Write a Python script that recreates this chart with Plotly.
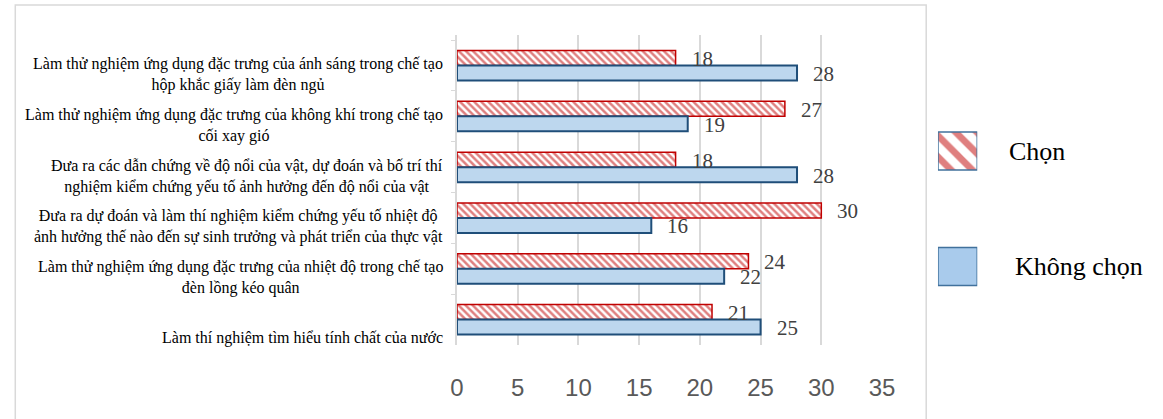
import plotly.graph_objects as go

categories = [
    "Làm thử nghiệm ứng dụng đặc trưng của ánh sáng trong chế tạo hộp khắc giấy làm đèn ngủ",
    "Làm thử nghiệm ứng dụng đặc trưng của không khí trong chế tạo cối xay gió",
    "Đưa ra các dẫn chứng về độ nổi của vật, dự đoán và bố trí thí nghiệm kiểm chứng yếu tố ảnh hưởng đến độ nổi của vật",
    "Đưa ra dự đoán và làm thí nghiệm kiểm chứng yếu tố nhiệt độ ảnh hưởng thế nào đến sự sinh trưởng và phát triển của thực vật",
    "Làm thử nghiệm ứng dụng đặc trưng của nhiệt độ trong chế tạo đèn lồng kéo quân",
    "Làm thí nghiệm tìm hiểu tính chất của nước",
]
tick_labels = [
    "Làm thử nghiệm ứng dụng đặc trưng của ánh sáng trong chế tạo<br>hộp khắc giấy làm đèn ngủ",
    "Làm thử nghiệm ứng dụng đặc trưng của không khí trong chế tạo<br>cối xay gió",
    "Đưa ra các dẫn chứng về độ nổi của vật, dự đoán và bố trí thí<br>nghiệm kiểm chứng yếu tố ảnh hưởng đến độ nổi của vật",
    "Đưa ra dự đoán và làm thí nghiệm kiểm chứng yếu tố nhiệt độ<br>ảnh hưởng thế nào đến sự sinh trưởng và phát triển của thực vật",
    "Làm thử nghiệm ứng dụng đặc trưng của nhiệt độ trong chế tạo<br>đèn lồng kéo quân",
    "Làm thí nghiệm tìm hiểu tính chất của nước",
]
series_names = ["Chọn", "Không chọn"]
chon = [18, 27, 18, 30, 24, 21]
khong_chon = [28, 19, 28, 16, 22, 25]
x_ticks = [0, 5, 10, 15, 20, 25, 30, 35]

W, H = 1163, 419
L, T, B, R = 457, 35, 74, 0
paper_w = W - L - R
paper_h = H - T - B
plot_w = 433


def px_x(p):
    return (p - L) / paper_w


def px_y(p):
    return (H - B - p) / paper_h


RED = "#C00000"
BLUE_FILL = "#BDD7EE"
BLUE_LINE = "#1F4E79"
GRID = "#D9D9D9"
SERIF = "Liberation Serif, Times New Roman, serif"

chon_pattern = dict(shape="\\", fgcolor=RED, bgcolor="white", size=5, solidity=0.5)

fig = go.Figure()
fig.add_trace(go.Bar(
    name=series_names[0], y=categories, x=chon, orientation="h",
    marker=dict(color="white", line=dict(color=RED, width=1.5), pattern=chon_pattern),
    showlegend=False, hoverinfo="x+y",
))
fig.add_trace(go.Bar(
    name=series_names[1], y=categories, x=khong_chon, orientation="h",
    marker=dict(color=BLUE_FILL, line=dict(color=BLUE_LINE, width=2)),
    showlegend=False, hoverinfo="x+y",
))

# Legend swatches drawn as bars in a small hidden subplot
sw_w = 38 / 115.5
fig.add_trace(go.Bar(
    y=[series_names[0]], x=[1], orientation="h", xaxis="x2", yaxis="y2",
    width=sw_w, offset=-sw_w / 2, showlegend=False, hoverinfo="skip",
    marker=dict(color="white", line=dict(color="#41719C", width=1.5),
                pattern=dict(shape="\\", fgcolor=RED, bgcolor="white", size=15, solidity=0.45)),
))
fig.add_trace(go.Bar(
    y=[series_names[1]], x=[1], orientation="h", xaxis="x2", yaxis="y2",
    width=sw_w, offset=-sw_w / 2, showlegend=False, hoverinfo="skip",
    marker=dict(color="#A9CBEC", line=dict(color="#41719C", width=1.5)),
))

annotations = []
for cat, lab in zip(categories, tick_labels):
    ys = -9 if "<br>" in lab else -18
    annotations.append(dict(
        xref="paper", x=0, xanchor="right", xshift=-12,
        yref="y", y=cat, yshift=ys, text=lab, align="center", showarrow=False,
        font=dict(family=SERIF, size=16, color="black"),
    ))
for cat, v1, v2 in zip(categories, chon, khong_chon):
    annotations.append(dict(
        xref="x", yref="y", x=v1, y=cat, xanchor="left", xshift=14, yshift=6.5,
        text=str(v1), showarrow=False, font=dict(family=SERIF, size=21, color="#404040"),
    ))
    annotations.append(dict(
        xref="x", yref="y", x=v2, y=cat, xanchor="left", xshift=14, yshift=-8.5,
        text=str(v2), showarrow=False, font=dict(family=SERIF, size=21, color="#404040"),
    ))
for i, name in enumerate(series_names):
    annotations.append(dict(
        xref="paper", x=px_x(1017), xanchor="left", xshift=6 * i, yref="y2", y=name,
        text=name, showarrow=False, font=dict(family=SERIF, size=26, color="black"),
    ))

fig.update_layout(
    width=W, height=H, autosize=False,
    margin=dict(l=L, r=R, t=T, b=B, pad=0),
    paper_bgcolor="white", plot_bgcolor="white",
    barmode="group", bargap=0.41, bargroupgap=0,
    showlegend=False,
    xaxis=dict(
        domain=[0, plot_w / paper_w], range=[0, 35], tickvals=x_ticks,
        showgrid=True, gridcolor=GRID, gridwidth=1.5, zeroline=False, showline=False,
        ticks="", tickfont=dict(family="Liberation Sans", size=24, color="#595959"),
        ticklabelstandoff=26, fixedrange=True,
    ),
    yaxis=dict(
        categoryorder="array", categoryarray=categories, autorange="reversed",
        showticklabels=False, showline=True, linecolor=GRID, linewidth=1.5,
        ticks="outside", tickson="boundaries", ticklen=4, tickcolor=GRID,
        showgrid=False, zeroline=False, fixedrange=True,
    ),
    xaxis2=dict(
        domain=[px_x(947), px_x(987)], range=[0, 1], anchor="y2", visible=False,
        fixedrange=True,
    ),
    yaxis2=dict(
        domain=[px_y(324.25), px_y(93.25)], anchor="x2", type="category",
        categoryorder="array", categoryarray=series_names, range=[1.5, -0.5],
        visible=False, fixedrange=True,
    ),
    annotations=annotations,
    shapes=[dict(
        type="rect", xref="paper", yref="paper",
        x0=px_x(7), x1=px_x(935), y0=-0.3, y1=px_y(5),
        line=dict(color=GRID, width=1.5), fillcolor="rgba(0,0,0,0)", layer="below",
    )],
)

fig.write_html("out.html", config={"responsive": False, "displayModeBar": False})
